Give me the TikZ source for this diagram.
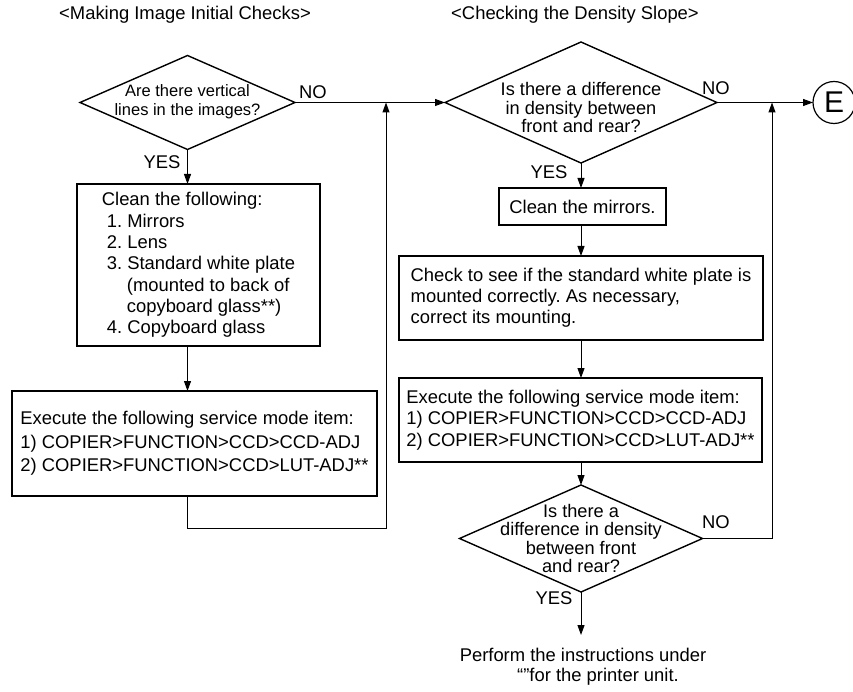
\documentclass[tikz,border=0pt]{standalone}
\usepackage{fontspec}
\setmainfont{Liberation Sans}
\usetikzlibrary{shapes.geometric,arrows.meta}
\frenchspacing
\begin{document}
\begin{tikzpicture}[x=1pt,y=-1pt,
  every node/.style={inner sep=0pt, outer sep=0pt},
  boxnode/.style={draw, line width=1.4pt, rectangle, align=left},
  dnode/.style={draw, line width=1.4pt, diamond, inner sep=0pt},
  lbl/.style={font=\fontsize{18.4}{20}\selectfont},
  conn/.style={line width=1pt},
  arr/.style={conn, -{Triangle[length=10pt,width=7pt]}},
]
\useasboundingbox (0,0) rectangle (853,692);

% titles
\node[lbl] (t1) at (185,15) {<Making Image Initial Checks>};
\node[lbl] (t2) at (575,15) {<Checking the Density Slope>};

% left column
\node[dnode, minimum width=215pt, minimum height=94pt,
  label={[font=\fontsize{16.5}{19}\selectfont, align=center, yshift=1pt]center:Are there vertical\\lines in the images?}] (d1) at (187.5,102.5) {};

\node[boxnode, minimum width=243pt, minimum height=162pt,
  font=\fontsize{18.4}{21.3}\selectfont] (b1) at (198.5,265)
  {Clean the following:\\
   \hspace*{5pt}1. Mirrors\\
   \hspace*{5pt}2. Lens\\
   \hspace*{5pt}3. Standard white plate\\
   \hspace*{25pt}(mounted to back of\\
   \hspace*{25pt}copyboard glass**)\\
   \hspace*{5pt}4. Copyboard glass};

\node[boxnode, minimum width=365pt, minimum height=105pt,
  font=\fontsize{18.4}{23.5}\selectfont] (b2) at (194.5,443.5)
  {Execute the following service mode item:\\
   1) COPIER>FUNCTION>CCD>CCD-ADJ\\
   2) COPIER>FUNCTION>CCD>LUT-ADJ**};

% right column
\node[dnode, minimum width=272pt, minimum height=121pt,
  label={[font=\fontsize{18.2}{18.5}\selectfont, align=center, yshift=-5pt]center:Is there a difference\\in density between\\front and rear?}] (d2) at (581,102.5) {};

\node[draw, circle, line width=1.2pt, minimum size=42pt,
  font=\fontsize{30}{30}\selectfont] (E) at (834,102.5) {E};

\node[boxnode, minimum width=167pt, minimum height=37pt,
  font=\fontsize{18.4}{21}\selectfont] (b3) at (582.5,206.5) {Clean the mirrors.};

\node[boxnode, minimum width=364pt, minimum height=84pt,
  font=\fontsize{18.4}{21}\selectfont] (b4) at (581,298)
  {Check to see if the standard white plate is\\
   mounted correctly. As necessary,\\
   correct its mounting.};

\node[boxnode, minimum width=363pt, minimum height=84pt,
  font=\fontsize{18.4}{21.5}\selectfont] (b5) at (580.5,420)
  {Execute the following service mode item:\\
   1) COPIER>FUNCTION>CCD>CCD-ADJ\\
   2) COPIER>FUNCTION>CCD>LUT-ADJ**};

\node[dnode, minimum width=243pt, minimum height=107pt,
  label={[font=\fontsize{18.2}{18.4}\selectfont, align=center]center:Is there a\\difference in density\\between front\\and rear?}] (d3) at (581,538.5) {};

\node[lbl, align=center, font=\fontsize{18.4}{20}\selectfont] (bt) at (583,667)
  {Perform the instructions under\\\hspace*{30pt}“”for the printer unit.};

% labels
\node[lbl] (no1) at (313,92) {NO};
\node[lbl] (no2) at (716,88) {NO};
\node[lbl] (no3) at (716,522) {NO};
\node[lbl] (yes1) at (162,162) {YES};
\node[lbl] (yes2) at (549,172) {YES};
\node[lbl] (yes3) at (554,598) {YES};

% junction coordinates
\coordinate (j1) at (386,102.5);
\coordinate (j2) at (772,102.5);
\coordinate (fin) at (581,635);

% connectors
\draw[arr] (d1.south) -- (d1.south |- b1.north);
\draw[arr] (b1.south -| d1.south) -- (b2.north -| d1.south);
\draw[arr] (b2.south -| d1.south) -- ++(0,32) -| (j1);
\draw[arr] (d1.east) -- (d2.west);
\draw[arr] (d2.east) -- (E.west);
\draw[arr] (d2.south) -- (d2.south |- b3.north);
\draw[arr] (b3.south -| d2.south) -- (b4.north -| d2.south);
\draw[arr] (b4.south -| d2.south) -- (b5.north -| d2.south);
\draw[arr] (b5.south -| d2.south) -- (d3.north);
\draw[arr] (d3.east) -- (d3.east -| j2) -- (j2);
\draw[arr] (d3.south) -- (fin);
\end{tikzpicture}
\end{document}
